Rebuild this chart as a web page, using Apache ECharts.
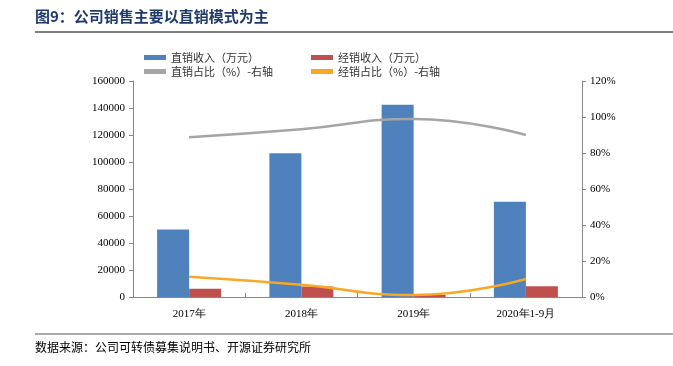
<!DOCTYPE html>
<html>
<head>
<meta charset="utf-8">
<script src="https://cdn.jsdelivr.net/npm/echarts@6/dist/echarts.min.js"></script>
<style>
  html, body { margin: 0; padding: 0; background: #fff; }
  #main { width: 673px; height: 366px; }
</style>
</head>
<body>
<div id="main"></div>
<script>
// 数据
var years = ['2017年', '2018年', '2019年', '2020年1-9月'];
var directIncome = [50000, 106500, 142500, 70500];
var dealerIncome = [6200, 7800, 1600, 7900];
var directRatio = [88.8, 93.2, 98.9, 90.0];
var dealerRatio = [11.2, 6.8, 1.1, 10.0];
var leftTicks = [0, 160000, 20000];
var rightTicks = [0, 120, 20];

var numFont = '"Liberation Serif", "Times New Roman", serif';
var cnFont = '"Noto Sans CJK SC", sans-serif';

var myChart = echarts.init(document.getElementById('main'));

var legendText = { fontFamily: cnFont, fontSize: 11, color: '#333' };

var option = {
    animation: false,
    textStyle: { fontFamily: numFont, color: '#000' },
    graphic: [
        {
            type: 'text', left: 35, top: 9,
            style: { text: '图9：公司销售主要以直销模式为主', font: 'bold 15px ' + cnFont, fill: '#1F3A6E' }
        },
        {
            type: 'line', shape: { x1: 35, y1: 32, x2: 673, y2: 32 },
            style: { stroke: '#000', lineWidth: 1 }
        },
        {
            type: 'line', shape: { x1: 35, y1: 334, x2: 673, y2: 334 },
            style: { stroke: '#555', lineWidth: 1 }
        },
        {
            type: 'text', left: 35, top: 341,
            style: { text: '数据来源：公司可转债募集说明书、开源证券研究所', font: '12px ' + cnFont, fill: '#000' }
        }
    ],
    legend: [
        {
            left: 139, top: 47, orient: 'vertical', itemWidth: 22, itemHeight: 5, itemGap: 3,
            textStyle: legendText,
            data: [
                { name: '直销收入（万元）', icon: 'rect' },
                { name: '直销占比（%）-右轴', icon: 'rect' }
            ]
        },
        {
            left: 306, top: 47, orient: 'vertical', itemWidth: 22, itemHeight: 5, itemGap: 3,
            textStyle: legendText,
            data: [
                { name: '经销收入（万元）', icon: 'rect' },
                { name: '经销占比（%）-右轴', icon: 'rect' }
            ]
        }
    ],
    grid: { left: 133, right: 91, top: 81, bottom: 69 },
    xAxis: {
        type: 'category',
        data: years,
        axisLine: { lineStyle: { color: '#888' } },
        axisTick: { show: true, length: 4, inside: true, lineStyle: { color: '#888' } },
        axisLabel: { color: '#000', fontSize: 11, margin: 12, fontFamily: numFont }
    },
    yAxis: [
        {
            type: 'value', min: leftTicks[0], max: leftTicks[1], interval: leftTicks[2],
            axisLine: { show: true, lineStyle: { color: '#888' } },
            axisTick: { show: true, length: 4, lineStyle: { color: '#888' } },
            splitLine: { show: false },
            axisLabel: {
                color: '#000', fontSize: 11, margin: 8,
                formatter: function (v) { return String(v); }
            }
        },
        {
            type: 'value', min: rightTicks[0], max: rightTicks[1], interval: rightTicks[2],
            position: 'right',
            axisLine: { show: true, lineStyle: { color: '#888' } },
            axisTick: { show: true, length: 4, lineStyle: { color: '#888' } },
            splitLine: { show: false },
            axisLabel: { color: '#000', fontSize: 11, margin: 8, formatter: '{value}%' }
        }
    ],
    series: [
        {
            name: '直销收入（万元）', type: 'bar', data: directIncome,
            barWidth: 32, barGap: '0%',
            itemStyle: { color: '#4F81BD' }
        },
        {
            name: '经销收入（万元）', type: 'bar', data: dealerIncome,
            barWidth: 32, barGap: '0%',
            itemStyle: { color: '#C0504D' }
        },
        {
            name: '直销占比（%）-右轴', type: 'line', yAxisIndex: 1, data: directRatio,
            smooth: true, symbol: 'none',
            lineStyle: { color: '#A5A5A5', width: 2.5 }, itemStyle: { color: '#A5A5A5' }
        },
        {
            name: '经销占比（%）-右轴', type: 'line', yAxisIndex: 1, data: dealerRatio,
            smooth: true, symbol: 'none',
            lineStyle: { color: '#F9A825', width: 2.5 }, itemStyle: { color: '#F9A825' }
        }
    ]
};

myChart.setOption(option);
window.onresize = function() {
    myChart.resize();
};
</script>
</body>
</html>
